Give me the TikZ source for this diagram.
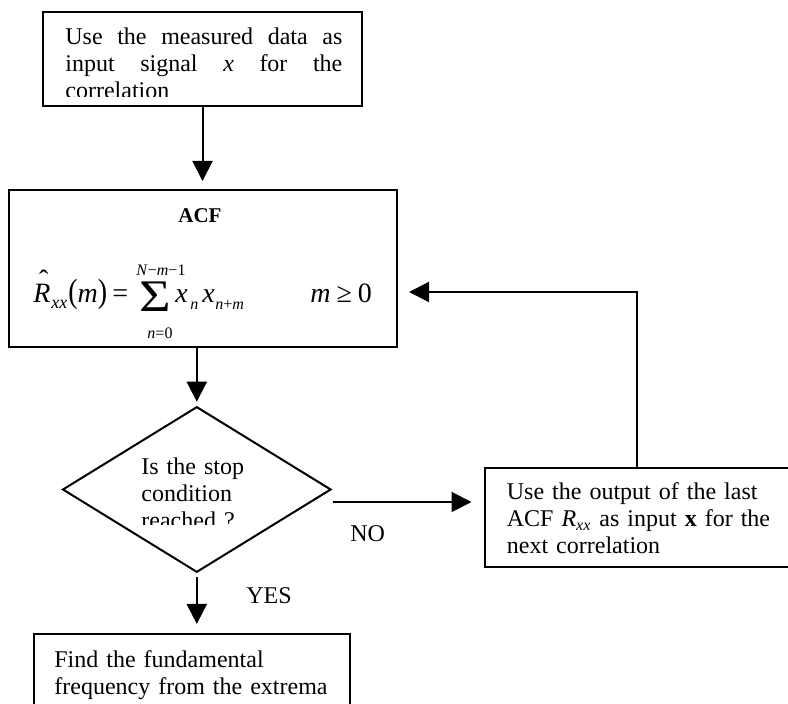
\documentclass[tikz,border=0pt]{standalone}
\usepackage{fontspec}
\setmainfont{Liberation Serif}
\usepackage{graphicx}
\usetikzlibrary{arrows.meta,shapes.geometric}
\begin{document}
\begin{tikzpicture}[x=0.5pt,y=-0.5pt,
  box/.style={draw, line width=1pt, inner sep=0, rectangle},
  txt/.style={inner sep=0, font=\fontsize{12}{13.5}\selectfont},
  fm/.style={inner sep=0, font=\fontsize{14}{14}\selectfont},
  fs/.style={inner sep=0, font=\fontsize{8}{8}\selectfont},
  fsn/.style={inner sep=0, font=\fontsize{9}{9}\selectfont},
  arr/.style={line width=1pt, -{Triangle[length=10pt,width=10pt]}}]
\clip (0,0) rectangle (788,704);
\fill[white] (0,0) rectangle (788,704);

% top box
\node[box, minimum width=159.5pt, minimum height=47pt] (b1) at (202.5,59) {};
\begin{scope}
\clip (43,12) rectangle (362,96.5);
\node[txt, text width=138.5pt, align=justify, anchor=base west] (t1) at (65,45)
  {\hyphenpenalty=10000 \tolerance=10000 Use the measured data as\linebreak input signal \textit{x} for the\linebreak correlation};
\end{scope}

% ACF box
\node[box, minimum width=194pt, minimum height=78.5pt] (acf) at (203,268.5) {};
\node[inner sep=0, font=\fontsize{10.5}{10.5}\selectfont\bfseries, anchor=base] (acft) at (200,223) {ACF};
\node[fm, anchor=base west] (fR) at (33,303) {\textit{R}\llap{\raisebox{6.75pt}[0pt][0pt]{ˆ}\kern1pt}};
\node[fsn, anchor=base west] (fxx) at (51,309) {\textit{xx}};
\node[fm, anchor=base west] (fpar) at (68,303) {\scalebox{1}[1.2]{(}\textit{m}\scalebox{1}[1.2]{)}};
\node[fm, anchor=base west] (feq) at (112,303) {=};
\node[inner sep=0, anchor=base west, font=\fontsize{22.6}{22.6}\selectfont] (fsum) at (139,312) {\scalebox{1.2}[1]{Σ}};
\node[fs, anchor=base] (fup) at (161,276) {\textit{N}−\textit{m}−1};
\node[fs, anchor=base] (flow) at (160,339) {\textit{n}=0};
\node[fm, anchor=base west] (fx1) at (175,303) {\textit{x}};
\node[fs, anchor=base west] (fn1) at (190,310) {\textit{n}};
\node[fm, anchor=base west] (fx2) at (202,303) {\textit{x}};
\node[fs, anchor=base west] (fn2) at (215,310) {\textit{n}+\textit{m}};
\node[fm, anchor=base west] (fge) at (310,303) {\textit{m}\kern3pt≥\kern3pt0};

% decision
\node[draw, diamond, line width=1pt, minimum width=134.25pt, minimum height=82.8pt, inner sep=0] (dia) at (196.8,489.5) {};
\begin{scope}
\clip (50,400) rectangle (350,525);
\node[txt, text width=100pt, align=left, anchor=base west] (dt) at (141,475)
  {Is the stop\\condition\\reached ?};
\end{scope}

% right box (runs past the right edge)
\node[box, minimum width=157.5pt, minimum height=49.5pt] (rb) at (642.5,517.2) {};
\node[txt, text width=140pt, align=left, anchor=base west] (rt) at (506.5,500)
  {Use the output of the last\\ACF \textit{R}\textsubscript{\textit{xx}} as input \textbf{x} for the\\next correlation};

% bottom box (runs past the bottom edge)
\node[box, minimum width=158.25pt, minimum height=50pt] (bb) at (191.75,684) {};
\node[txt, text width=150pt, align=left, anchor=base west] (bt) at (54,668)
  {Find the fundamental\\frequency from the extrema};

% labels
\node[txt, anchor=base west] (no) at (350,542) {NO};
\node[txt, anchor=base west] (yes) at (246,604) {YES};

% connectors
\draw[arr, shorten >=4pt] (b1.south) -- (b1.south |- acf.north);
\draw[arr, shorten >=2pt] (acf.south -| dia.north) -- (dia.north);
\draw[arr, shorten <=2pt, shorten >=4.5pt] (dia.south) -- (dia.south |- bb.north);
\coordinate (nos) at (332.5,502);
\draw[arr, shorten >=6.25pt] (nos) -- (nos -| rb.west);
\coordinate (fbc) at (637,292);
\draw[arr, shorten >=5.5pt] (rb.north -| fbc) -- (fbc) -- (fbc -| acf.east);
\end{tikzpicture}
\end{document}
